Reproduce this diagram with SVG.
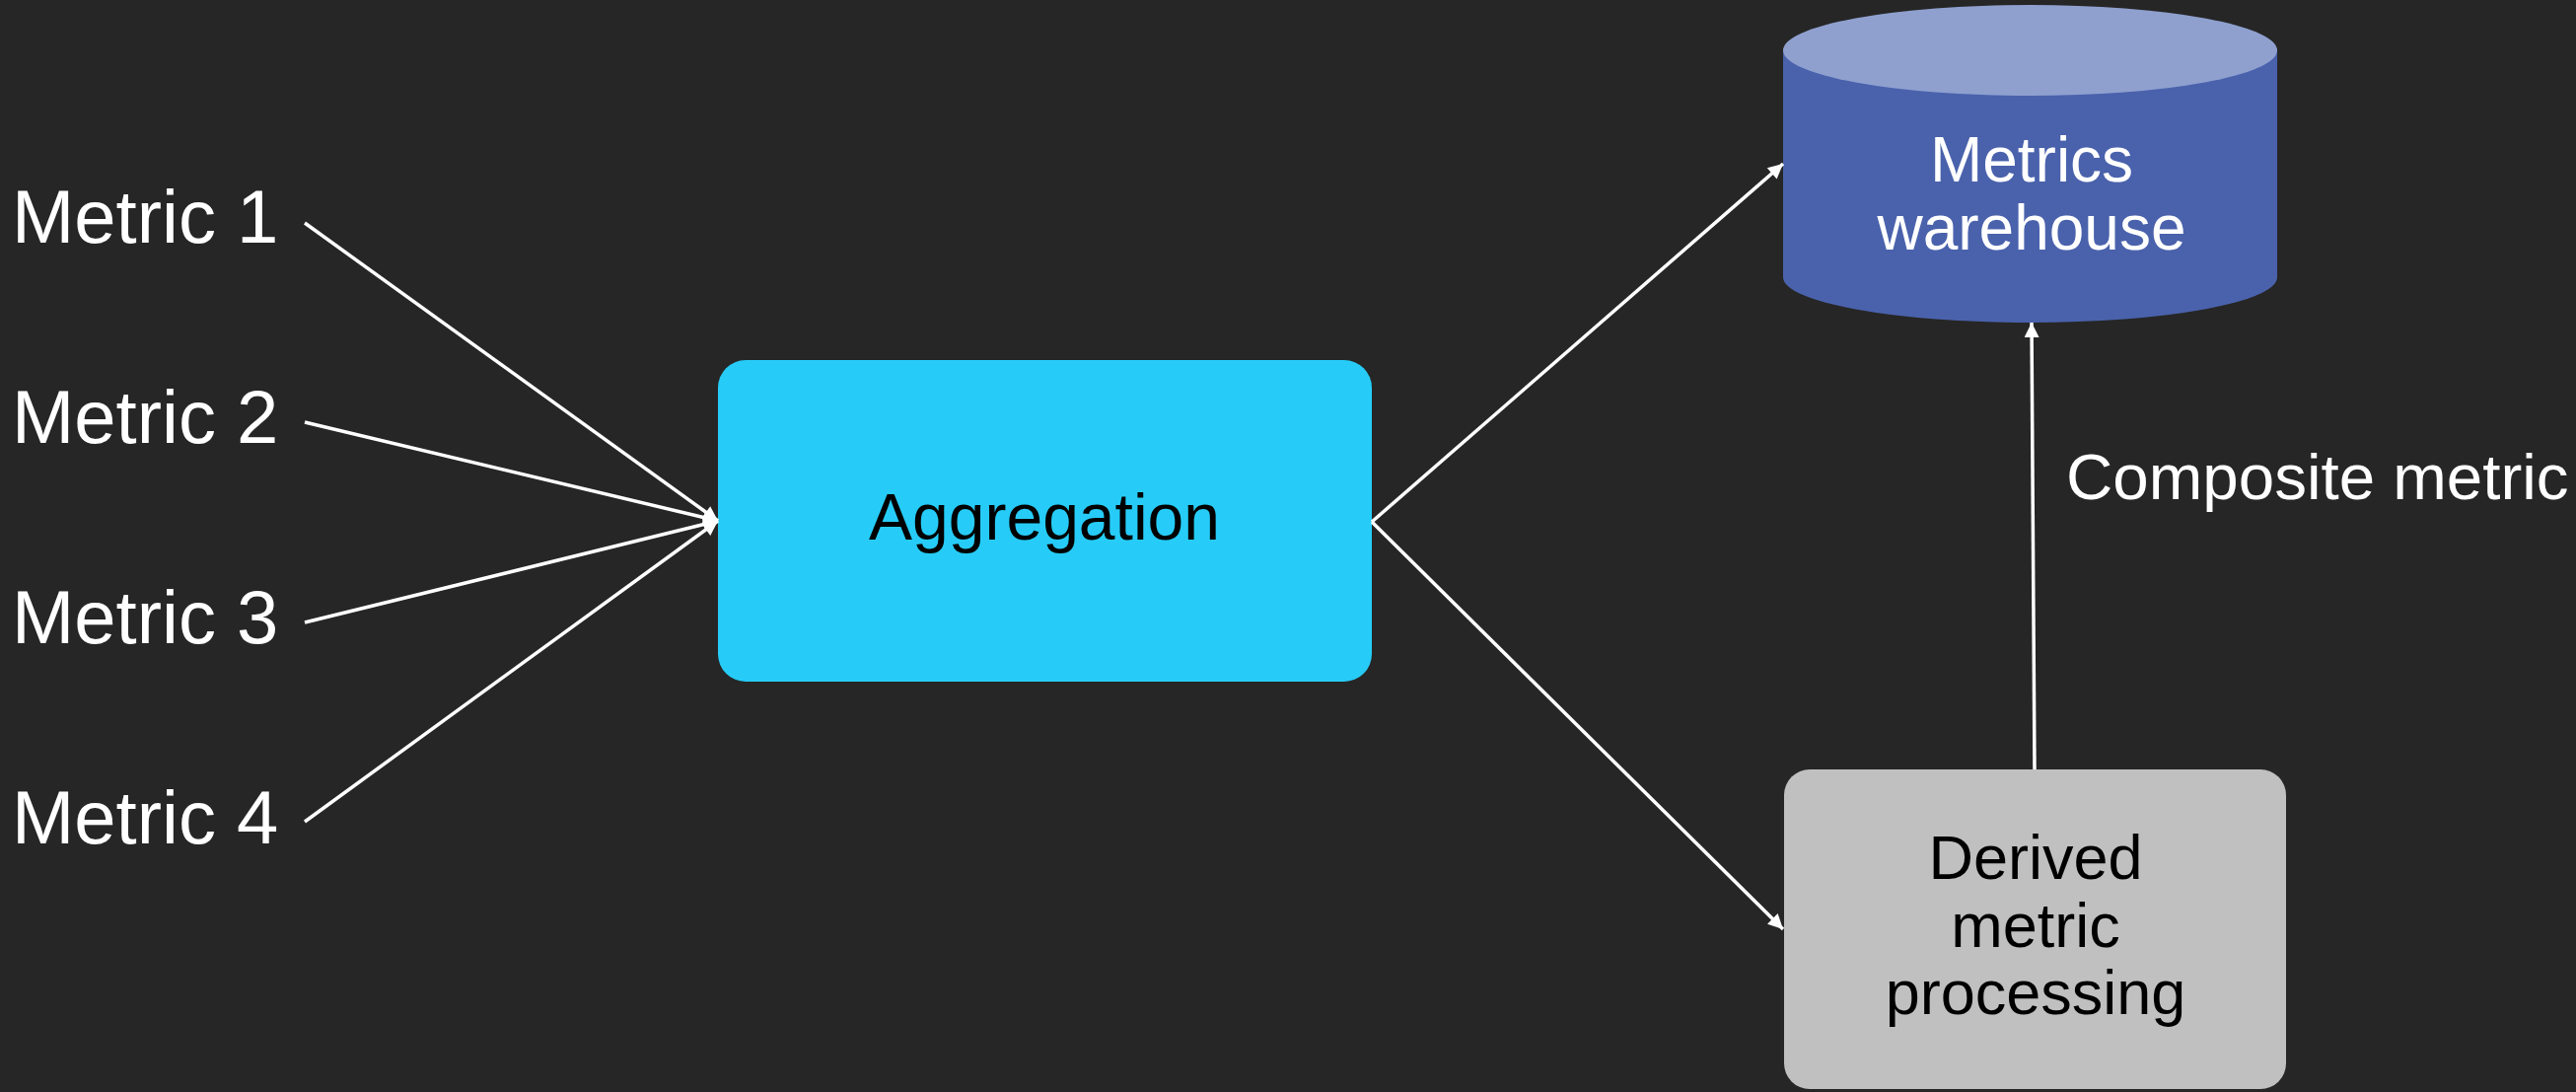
<svg xmlns="http://www.w3.org/2000/svg" width="2612" height="1107" viewBox="0 0 2612 1107">
  <style>
    .lbl { font-family: "Liberation Sans", Arial, sans-serif; fill: #ffffff; }
    .dark { font-family: "Liberation Sans", Arial, sans-serif; fill: #000000; }
    .edge { stroke: #ffffff; stroke-width: 3.5; fill: none; marker-end: url(#arrow); }
  </style>
  <defs>
    <marker id="arrow" viewBox="0 0 10 10" refX="10" refY="5" markerWidth="20" markerHeight="15" markerUnits="userSpaceOnUse" orient="auto">
      <path d="M0,0 L10,5 L0,10 z" fill="#ffffff"/>
    </marker>
  </defs>
  <rect x="0" y="0" width="2612" height="1107" fill="#262626"/>

  <g id="metric1"><text class="lbl" x="12" y="246" font-size="76">Metric 1</text></g>
  <g id="metric2"><text class="lbl" x="12" y="449" font-size="76">Metric 2</text></g>
  <g id="metric3"><text class="lbl" x="12" y="652" font-size="76">Metric 3</text></g>
  <g id="metric4"><text class="lbl" x="12" y="855" font-size="76">Metric 4</text></g>

  <g id="aggregation">
    <rect x="728" y="365" width="663" height="326" rx="28" ry="28" fill="#26CCF7"/>
    <text class="dark" x="1059" y="547" font-size="66" text-anchor="middle">Aggregation</text>
  </g>

  <g id="warehouse">
    <path d="M1808,51 L1808,281 A250.5,46 0 0 0 2309,281 L2309,51 Z" fill="#4A62AC"/>
    <ellipse cx="2058.5" cy="51" rx="250.5" ry="46" fill="#8FA0CF"/>
    <text class="lbl" x="2060" y="184" font-size="64" text-anchor="middle">Metrics</text>
    <text class="lbl" x="2060" y="253" font-size="64" text-anchor="middle">warehouse</text>
  </g>

  <g id="derived">
    <rect x="1809" y="780" width="509" height="324" rx="26" ry="26" fill="#C0C0C0"/>
    <text class="dark" x="2064" y="891" font-size="63" text-anchor="middle">Derived</text>
    <text class="dark" x="2064" y="960" font-size="63" text-anchor="middle">metric</text>
    <text class="dark" x="2064" y="1028" font-size="63" text-anchor="middle">processing</text>
  </g>

  <g id="connectors">
    <line class="edge" x1="309" y1="226" x2="728" y2="528"/>
    <line class="edge" x1="309" y1="428" x2="728" y2="528"/>
    <line class="edge" x1="309" y1="631" x2="728" y2="528"/>
    <line class="edge" x1="309" y1="833" x2="728" y2="528"/>
    <line class="edge" x1="1391" y1="529" x2="1808" y2="166"/>
    <line class="edge" x1="1391" y1="529" x2="1808" y2="942"/>
    <line class="edge" x1="2063" y1="780" x2="2060" y2="327"/>
    <text class="lbl" x="2095" y="506" font-size="65.5">Composite metric</text>
  </g>
</svg>
